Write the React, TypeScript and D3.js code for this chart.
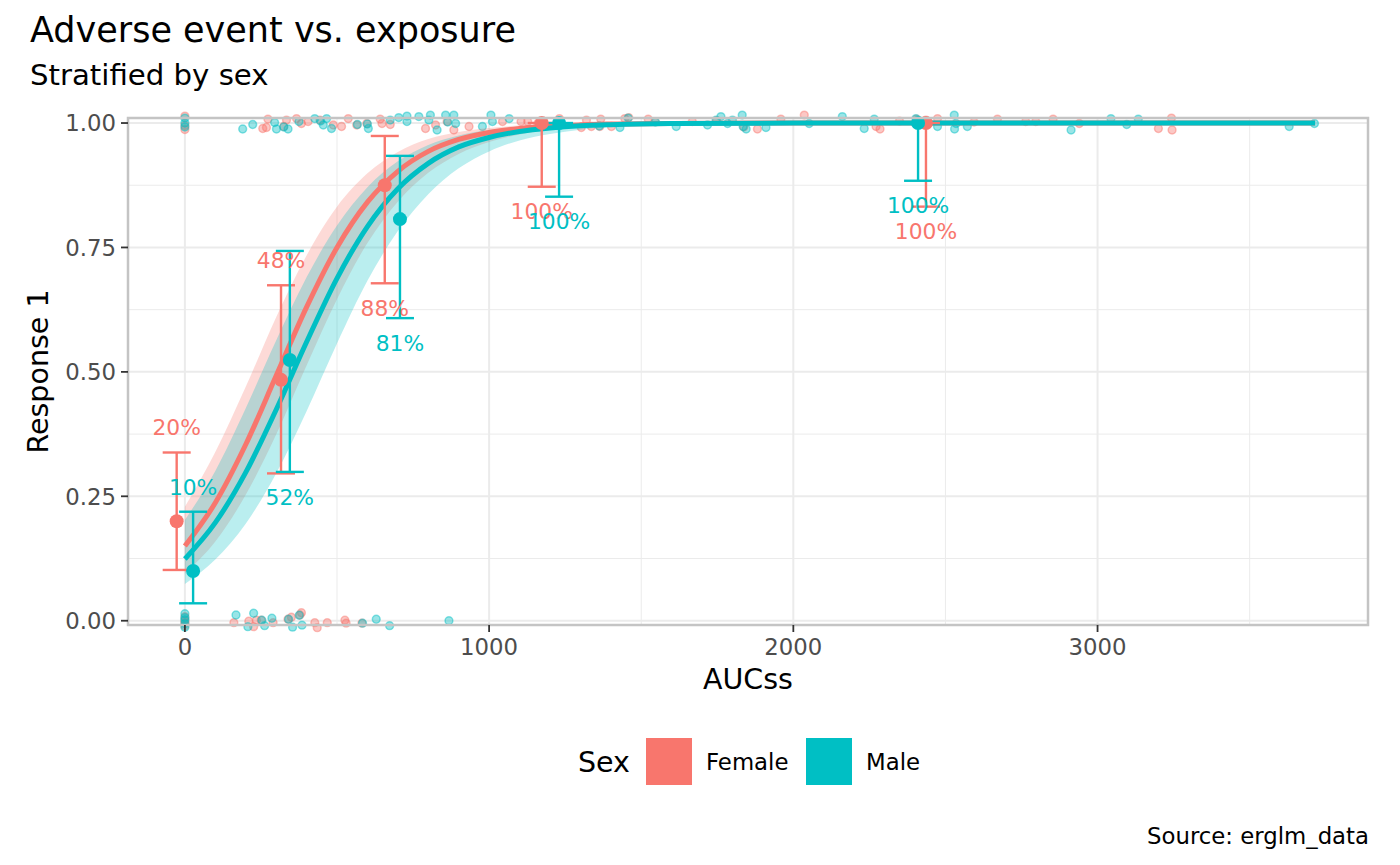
import * as React from "react"
import * as d3 from "d3"

const WIDTH = 1400
const HEIGHT = 865
const FONT = "DejaVu Sans, Liberation Sans, sans-serif"

const sexLevels = ["Female", "Male"]
const sexColors = ["#F8766D", "#00BFC4"]

const xTicks = [0, 1000, 2000, 3000]
const xMinor = [500, 1500, 2500, 3500]
const yTicks = [0, 0.25, 0.5, 0.75, 1]
const yTickLabels = ["0.00", "0.25", "0.50", "0.75", "1.00"]
const yMinor = [0.125, 0.375, 0.625, 0.875]

// logistic fit + 95% band
const fitAUC = [0, 100, 200, 300, 400, 500, 600, 700, 800, 900, 1000, 1100, 1200, 1300, 1400, 1600, 2000, 2500, 3000, 3715]
const fitFemale = [0.150, 0.237, 0.354, 0.492, 0.630, 0.750, 0.841, 0.903, 0.943, 0.967, 0.981, 0.989, 0.9938, 0.9964, 0.998, 0.9993, 1, 1, 1, 1]
const fitFemaleLo = [0.095, 0.159, 0.253, 0.374, 0.513, 0.646, 0.759, 0.842, 0.900, 0.938, 0.962, 0.977, 0.986, 0.9917, 0.995, 0.9982, 0.9998, 1, 1, 1]
const fitFemaleHi = [0.229, 0.339, 0.470, 0.610, 0.734, 0.832, 0.899, 0.942, 0.968, 0.982, 0.990, 0.9948, 0.9972, 0.9985, 0.9992, 0.9997, 1, 1, 1, 1]
const fitMale = [0.124, 0.197, 0.298, 0.424, 0.560, 0.688, 0.792, 0.868, 0.919, 0.952, 0.971, 0.983, 0.990, 0.9944, 0.9967, 0.9989, 0.9999, 1, 1, 1]
const fitMaleLo = [0.074, 0.123, 0.195, 0.296, 0.421, 0.557, 0.683, 0.783, 0.857, 0.909, 0.943, 0.965, 0.978, 0.9867, 0.9918, 0.997, 0.9996, 1, 1, 1]
const fitMaleHi = [0.2025, 0.301, 0.427, 0.563, 0.690, 0.794, 0.871, 0.923, 0.956, 0.975, 0.986, 0.9922, 0.9957, 0.9976, 0.9987, 0.9996, 1, 1, 1, 1]

// binned observed proportions with CIs
const binAUCFemale = [-27, 316, 657, 1173, 2436]
const binPropFemale = [0.20, 0.484, 0.875, 1.0, 1.0]
const binLoFemale = [0.102, 0.296, 0.678, 0.872, 0.832]
const binHiFemale = [0.338, 0.674, 0.974, 1.0, 1.0]
const binAUCMale = [27, 345, 707, 1230, 2410]
const binPropMale = [0.10, 0.524, 0.807, 1.0, 1.0]
const binLoMale = [0.035, 0.299, 0.608, 0.852, 0.884]
const binHiMale = [0.219, 0.743, 0.934, 1.0, 1.0]

// jittered raw observations [AUCss, response]
const femaleObs: [number, number][] = [
    [0, 1.014], [0, 0.995], [0, 0.987],
    [256, 0.989], [268, 0.991], [273, 1.008], [325, 0.993], [334, 1.006], [367, 1.009], [383, 0.999], [405, 1.003],
    [444, 1.006], [488, 0.996], [515, 0.993], [537, 1.009], [565, 0.996], [598, 0.999], [642, 1.008], [648, 0.999],
    [675, 0.997], [791, 0.989], [824, 0.996], [862, 1.003], [884, 0.986], [934, 0.993], [1044, 1.003], [1105, 1.003],
    [1127, 1.003], [1160, 0.999], [1231, 1.009], [1303, 0.991], [1320, 1.006], [1336, 0.993], [1364, 0.993],
    [1367, 1.008], [1402, 0.993], [1446, 1.009], [1459, 1.011], [1523, 1.008], [1545, 1.003], [1668, 1.003],
    [1748, 1.005], [1837, 0.992], [1882, 0.988], [1959, 1.008], [2036, 1.016], [2272, 0.993], [2285, 0.988],
    [2349, 1.004], [2405, 1.008], [2436, 1.006], [2474, 1.009], [2594, 1.002], [2671, 1.008], [2764, 1.003],
    [2797, 1.003], [2854, 1.008], [2940, 0.999], [3200, 0.989], [3243, 1.010], [3245, 0.986],
    [0, 0.008], [0, -0.004], [0, 0.0], [0, -0.01],
    [161, -0.004], [210, -0.001], [226, -0.012], [235, 0.001], [251, 0.001], [290, -0.004], [339, 0.003],
    [350, 0.007], [378, 0.0115], [383, 0.016], [427, -0.004], [435, -0.014], [468, -0.004], [526, 0.001],
    [530, -0.005], [582, -0.005],
]
const maleObs: [number, number][] = [
    [0, 1.01], [0, 1.0], [0, 0.992],
    [190, 0.988], [223, 0.997], [295, 1.001], [301, 0.988], [325, 0.992], [339, 0.988], [375, 1.003], [427, 1.009],
    [446, 1.004], [455, 0.996], [466, 1.009], [482, 0.989], [567, 0.997], [600, 0.998], [603, 0.989], [675, 1.006],
    [703, 1.011], [730, 1.014], [730, 1.003], [769, 1.013], [802, 1.006], [807, 1.016], [829, 0.986], [857, 1.016],
    [864, 1.002], [884, 1.016], [890, 0.999], [978, 0.993], [1006, 1.016], [1011, 1.003], [1066, 1.009],
    [1362, 0.994], [1430, 0.991], [1457, 1.010], [1547, 1.002], [1615, 0.993], [1718, 0.996], [1746, 1.006],
    [1762, 1.013], [1784, 0.999], [1800, 1.006], [1832, 1.016], [1835, 0.993], [1845, 0.988], [1910, 0.991],
    [2052, 0.999], [2161, 1.013], [2233, 0.989], [2266, 1.008], [2403, 1.009], [2474, 0.993], [2529, 1.016],
    [2530, 0.988], [2535, 0.999], [2572, 0.993], [2913, 0.986], [3044, 1.009], [3096, 0.997], [3134, 1.008],
    [3630, 0.993], [3713, 0.999],
    [0, 0.014], [0, -0.013], [0, 0.006], [0, -0.006], [0, 0.002],
    [168, 0.0115], [207, -0.012], [226, 0.015], [253, 0.001], [262, -0.01], [286, 0.005], [341, 0.003],
    [354, -0.013], [376, 0.011], [385, -0.009], [584, -0.005], [629, 0.003], [673, -0.01], [868, 0.0],
]

const panel = { left: 128, right: 1368, top: 118, bottom: 625 }

export default function App(): JSX.Element {
    const x = d3.scaleLinear().domain([-187, 3889]).range([panel.left, panel.right])
    const y = d3.scaleLinear().domain([-0.0086, 1.0101]).range([panel.bottom, panel.top])

    const series = [
        { obs: femaleObs, fit: fitFemale, lo: fitFemaleLo, hi: fitFemaleHi,
          bx: binAUCFemale, bp: binPropFemale, bl: binLoFemale, bh: binHiFemale },
        { obs: maleObs, fit: fitMale, lo: fitMaleLo, hi: fitMaleHi,
          bx: binAUCMale, bp: binPropMale, bl: binLoMale, bh: binHiMale },
    ]

    const band = (lo: number[], hi: number[]) => d3.area<number>()
        .x(d => x(d))
        .y0((_, i) => y(lo[i]))
        .y1((_, i) => y(hi[i]))
        .curve(d3.curveMonotoneX)(fitAUC) || ""

    const line = (v: number[]) => d3.line<number>()
        .x(d => x(d))
        .y((_, i) => y(v[i]))
        .curve(d3.curveMonotoneX)(fitAUC) || ""

    const capHalf = 14
    const labelOffset = 0.05

    return (
        <svg width={WIDTH} height={HEIGHT} style={{ position: "absolute", left: 0, top: 0, fontFamily: FONT }}>
            <rect width={WIDTH} height={HEIGHT} fill="#FFFFFF" />

            {/* titles */}
            <text x={30} y={42} fontSize={35} fill="#000">Adverse event vs. exposure</text>
            <text x={30} y={85} fontSize={29.2} fill="#000">Stratified by sex</text>

            {/* grid */}
            <g>
                {xMinor.map(v => (
                    <line key={"xm" + v} x1={x(v)} x2={x(v)} y1={panel.top} y2={panel.bottom} stroke="#EBEBEB" strokeWidth={1} />
                ))}
                {yMinor.map(v => (
                    <line key={"ym" + v} x1={panel.left} x2={panel.right} y1={y(v)} y2={y(v)} stroke="#EBEBEB" strokeWidth={1} />
                ))}
                {xTicks.map(v => (
                    <line key={"xg" + v} x1={x(v)} x2={x(v)} y1={panel.top} y2={panel.bottom} stroke="#EBEBEB" strokeWidth={2} />
                ))}
                {yTicks.map(v => (
                    <line key={"yg" + v} x1={panel.left} x2={panel.right} y1={y(v)} y2={y(v)} stroke="#EBEBEB" strokeWidth={2} />
                ))}
            </g>

            {/* raw jittered observations */}
            {series.map((s, k) => (
                <g key={"obs" + k}>
                    {s.obs.map((d, i) => (
                        <circle key={i} cx={x(d[0])} cy={y(d[1])} r={3.9}
                            fill={sexColors[k]} fillOpacity={0.4}
                            stroke={sexColors[k]} strokeOpacity={0.45} strokeWidth={1.5} />
                    ))}
                </g>
            ))}

            {/* fit bands and lines */}
            {series.map((s, k) => (
                <path key={"band" + k} d={band(s.lo, s.hi)} fill={sexColors[k]} fillOpacity={0.27} stroke="none" />
            ))}
            {series.map((s, k) => (
                <path key={"fit" + k} d={line(s.fit)} fill="none" stroke={sexColors[k]} strokeWidth={5} />
            ))}

            {/* binned proportions */}
            {series.map((s, k) => (
                <g key={"bin" + k} stroke={sexColors[k]} strokeWidth={2.4}>
                    {s.bx.map((bx, i) => (
                        <g key={i}>
                            <line x1={x(bx)} x2={x(bx)} y1={y(s.bl[i])} y2={y(s.bh[i])} />
                            <line x1={x(bx) - capHalf} x2={x(bx) + capHalf} y1={y(s.bl[i])} y2={y(s.bl[i])} />
                            <line x1={x(bx) - capHalf} x2={x(bx) + capHalf} y1={y(s.bh[i])} y2={y(s.bh[i])} />
                        </g>
                    ))}
                </g>
            ))}
            {series.map((s, k) => (
                <g key={"pt" + k}>
                    {s.bx.map((bx, i) => (
                        <circle key={i} cx={x(bx)} cy={y(s.bp[i])} r={7} fill={sexColors[k]} />
                    ))}
                </g>
            ))}
            {series.map((s, k) => (
                <g key={"lab" + k} fontSize={21.8} fill={sexColors[k]} textAnchor="middle">
                    {s.bx.map((bx, i) => {
                        const ly = s.bp[i] < 0.5 ? s.bh[i] + labelOffset : s.bl[i] - labelOffset
                        return (
                            <text key={i} x={x(bx)} y={y(ly)} dy="0.36em">{Math.round(s.bp[i] * 100) + "%"}</text>
                        )
                    })}
                </g>
            ))}

            {/* panel border */}
            <rect x={panel.left} y={panel.top} width={panel.right - panel.left} height={panel.bottom - panel.top}
                fill="none" stroke="#C4C4C4" strokeWidth={2.5} />

            {/* axes */}
            <g fontSize={22.8} fill="#4D4D4D">
                {yTicks.map((v, i) => (
                    <g key={"yt" + v}>
                        <line x1={panel.left - 7} x2={panel.left} y1={y(v)} y2={y(v)} stroke="#333333" strokeWidth={1.8} />
                        <text x={116} y={y(v)} dy="0.36em" textAnchor="end">{yTickLabels[i]}</text>
                    </g>
                ))}
                {xTicks.map(v => (
                    <g key={"xt" + v}>
                        <line x1={x(v)} x2={x(v)} y1={panel.bottom} y2={panel.bottom + 7} stroke="#333333" strokeWidth={1.8} />
                        <text x={x(v)} y={655} textAnchor="middle">{String(v)}</text>
                    </g>
                ))}
            </g>
            <text x={(panel.left + panel.right) / 2} y={689} fontSize={28.5} textAnchor="middle" fill="#000">AUCss</text>
            <text transform={`translate(48,${(panel.top + panel.bottom) / 2}) rotate(-90)`} fontSize={28.5}
                textAnchor="middle" fill="#000">Response 1</text>

            {/* legend */}
            <text x={578} y={772} fontSize={28.5} fill="#000">Sex</text>
            {sexLevels.map((lab, k) => (
                <g key={lab} transform={`translate(${646 + k * 160},738)`}>
                    <rect width={46} height={47} fill={sexColors[k]} />
                    <text x={60} y={32} fontSize={22.8} fill="#000">{lab}</text>
                </g>
            ))}

            <text x={1369} y={844} fontSize={22.8} textAnchor="end" fill="#000">Source: erglm_data</text>
        </svg>
    )
}
